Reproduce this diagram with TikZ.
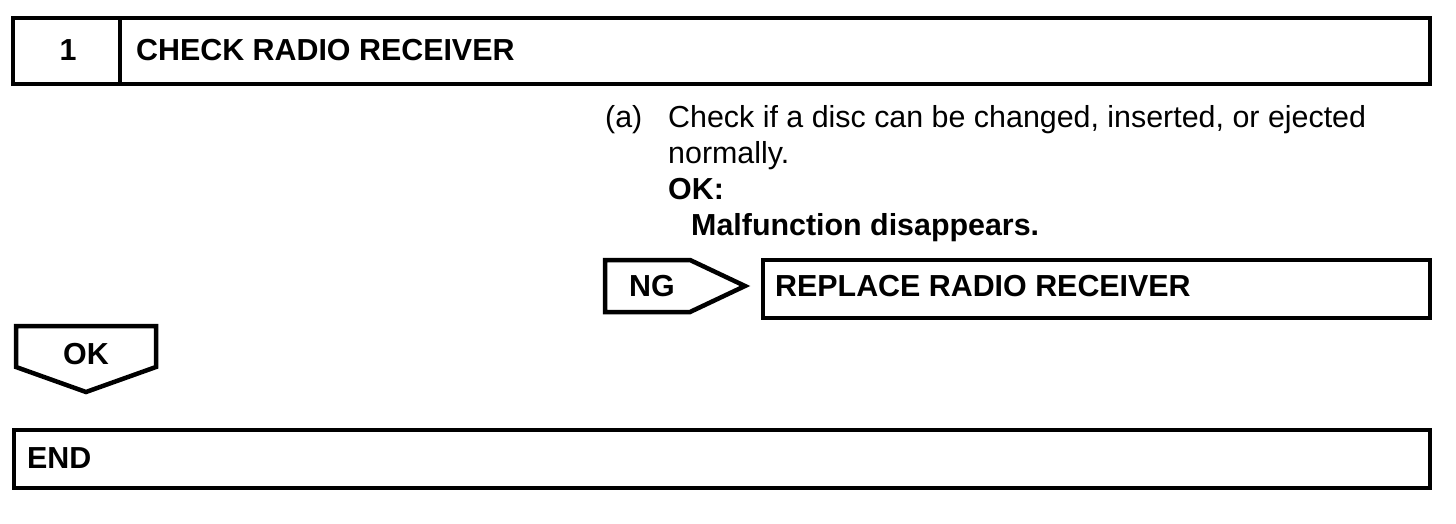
\documentclass[tikz,border=0pt]{standalone}
\usepackage{fontspec}
\setmainfont{Liberation Sans}
\begin{document}
\begin{tikzpicture}[x=1pt,y=-1pt,
  frame/.style={draw=black, line width=4.5pt, line join=miter, inner sep=0pt, outer sep=0pt},
  txt/.style={inner sep=0pt, anchor=base west, font=\fontsize{30.4}{35}\selectfont},
  btxt/.style={txt, font=\fontsize{30.4}{35}\selectfont\bfseries}]
\useasboundingbox (0,0) rectangle (1456,524);
% step header
\node[frame, minimum width=107pt, minimum height=66pt] (num) at (66.5,51) {};
\node[frame, minimum width=1310pt, minimum height=66pt] (title) at (775,51) {};
\node[btxt, anchor=base] (numtxt) at (68,61) {1};
\node[btxt] (titletxt) at (136,61) {CHECK RADIO RECEIVER};
% instructions
\node[txt] (a) at (605,128) {(a)};
\node[txt] (l1) at (668,128) {Check if a disc can be changed, inserted, or ejected};
\node[txt] (l2) at (668,163) {normally.};
\node[btxt] (l3) at (668,199) {OK:};
\node[btxt] (l4) at (691,235) {Malfunction disappears.};
% NG arrow
\draw[frame] (605,260) -- (690,260) -- (745,286) -- (690,312) -- (605,312) -- cycle;
\node[btxt] (ng) at (629,296) {NG};
\node[frame, minimum width=667pt, minimum height=58pt] (replace) at (1096.5,289) {};
\node[btxt] (repltxt) at (775,296) {REPLACE RADIO RECEIVER};
% OK arrow
\draw[frame] (16,326) -- (156,326) -- (156,367) -- (86,392) -- (16,367) -- cycle;
\node[btxt, anchor=base] (ok) at (86,364) {OK};
% END
\node[frame, minimum width=1416pt, minimum height=58pt] (endbox) at (722,459) {};
\node[btxt] (endtxt) at (27,468) {END};
\end{tikzpicture}
\end{document}
